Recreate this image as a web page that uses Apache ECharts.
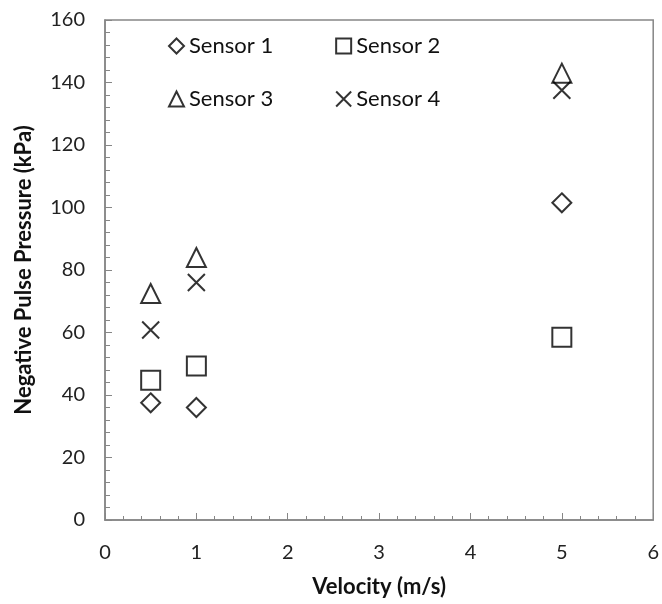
<!DOCTYPE html>
<html>
<head>
<meta charset="utf-8">
<script src="https://cdn.jsdelivr.net/npm/echarts@6/dist/echarts.min.js"></script>
<style>
    html, body { margin: 0; padding: 0; background: #fff; }
    #chart { width: 662px; height: 604px; }
</style>
</head>
<body>
<div id="chart"></div>
<script>
    const velocity = [0.5, 1, 5]
    const sensor1 = [37.5, 36, 101.5]
    const sensor2 = [44.7, 49.3, 58.5]
    const sensor3 = [72.5, 84, 143]
    const sensor4 = [60.8, 76, 137.5]
    const seriesNames = ['Sensor 1', 'Sensor 2', 'Sensor 3', 'Sensor 4']
    const seriesSymbols = ['diamond', 'rect', 'triangle', 'path://M0,0L10,10M10,0L0,10']
    const seriesValues = [sensor1, sensor2, sensor3, sensor4]

    const font = 'Lato, "Open Sans", sans-serif'
    const chart = echarts.init(document.getElementById('chart'))

    function pairs(values) {
        return velocity.map((v, i) => [v, values[i]])
    }

    const series = seriesNames.map((name, i) => ({
        name: name,
        type: 'scatter',
        symbol: seriesSymbols[i],
        symbolSize: i === 3 ? 17 : 19,
        itemStyle: {
            color: 'rgba(0,0,0,0)',
            borderColor: '#000',
            borderWidth: 2
        },
        emphasis: { disabled: true },
        data: pairs(seriesValues[i])
    }))

    const legendBase = {
        orient: 'horizontal',
        itemWidth: 15,
        itemHeight: 15,
        itemGap: 62,
        textStyle: { fontFamily: font, fontSize: 22, color: '#111' }
    }

    const option = {
        animation: false,
        grid: {
            left: 105,
            right: 5,
            top: 20,
            bottom: 84,
            show: true,
            borderColor: '#868686',
            borderWidth: 1.5
        },
        legend: [
            Object.assign({}, legendBase, { left: 163, top: 30, data: ['Sensor 1', 'Sensor 2'] }),
            Object.assign({}, legendBase, { left: 163, top: 83, data: ['Sensor 3', 'Sensor 4'] })
        ],
        xAxis: {
            type: 'value',
            min: 0,
            max: 6,
            interval: 1,
            name: 'Velocity (m/s)',
            nameLocation: 'middle',
            nameGap: 56,
            nameTextStyle: { fontFamily: font, fontSize: 22, fontWeight: 'bold', color: '#111' },
            axisLine: { lineStyle: { color: '#868686', width: 1.5 } },
            axisTick: { inside: true, length: 7, lineStyle: { color: '#868686' } },
            minorTick: { show: true, splitNumber: 5, length: 4, lineStyle: { color: '#868686' } },
            axisLabel: { fontFamily: font, fontSize: 20, color: '#222', margin: 23 },
            splitLine: { show: false }
        },
        yAxis: {
            type: 'value',
            min: 0,
            max: 160,
            interval: 20,
            name: 'Negative Pulse Pressure (kPa)',
            nameLocation: 'middle',
            nameGap: 70,
            nameTextStyle: { fontFamily: font, fontSize: 22, fontWeight: 'bold', color: '#111' },
            axisLine: { lineStyle: { color: '#868686', width: 1.5 } },
            axisTick: { inside: true, length: 7, lineStyle: { color: '#868686' } },
            minorTick: { show: true, splitNumber: 5, length: 5, lineStyle: { color: '#868686' } },
            axisLabel: { fontFamily: font, fontSize: 20, color: '#222', margin: 20 },
            splitLine: { show: false }
        },
        series: series
    }

    chart.setOption(option)
</script>
</body>
</html>
